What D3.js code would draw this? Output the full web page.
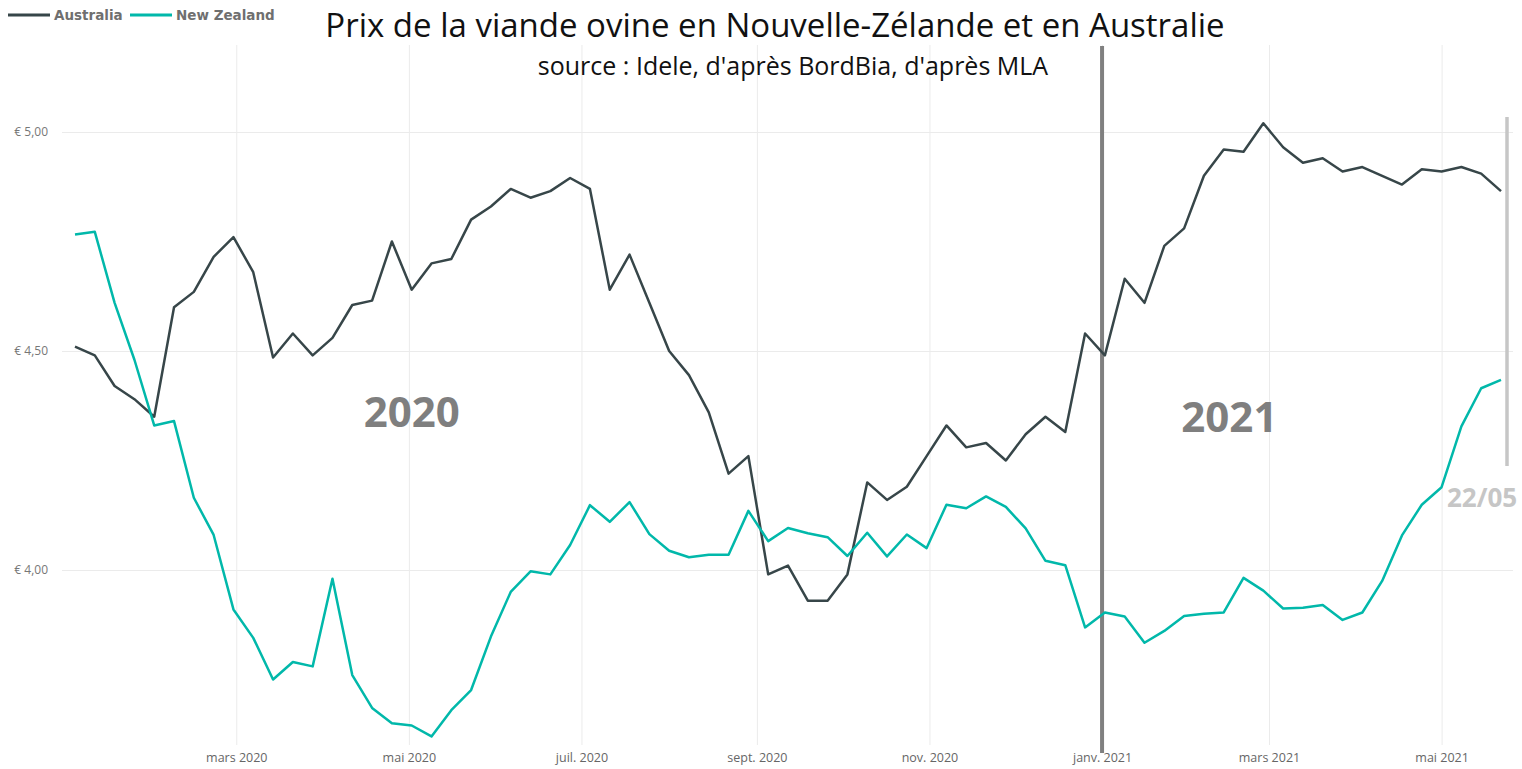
<!DOCTYPE html>
<html>
<head>
<meta charset="utf-8">
<script src="https://cdnjs.cloudflare.com/ajax/libs/d3/7.8.5/d3.min.js"></script>
<style>
  body { margin: 0; background: #fff; }
  .grid line { stroke: #ebebeb; stroke-width: 1; }
  .grid path { display: none; }
  .tick text { fill: #777; font-family: "Open Sans", sans-serif; }
</style>
</head>
<body>
<div id="chart"></div>
<script>
var svgWidth = 1522;
var svgHeight = 769;

// weekly prices (€/kg), first week ends 4 Jan 2020, last on 22 May 2021
var startWeek = new Date(2020, 0, 4);
var endWeek = new Date(2021, 4, 22);

var australia = [
  4.51, 4.49, 4.42, 4.39, 4.35, 4.60, 4.635, 4.715, 4.76, 4.68,
  4.485, 4.54, 4.49, 4.53, 4.605, 4.615, 4.75, 4.64, 4.70, 4.71,
  4.80, 4.83, 4.87, 4.85, 4.865, 4.895, 4.87, 4.64, 4.72, 4.61,
  4.50, 4.445, 4.36, 4.22, 4.26, 3.99, 4.01, 3.93, 3.93, 3.99,
  4.20, 4.16, 4.19, 4.26, 4.33, 4.28, 4.29, 4.25, 4.31, 4.35,
  4.315, 4.54, 4.49, 4.665, 4.61, 4.74, 4.78, 4.90, 4.96, 4.955,
  5.02, 4.965, 4.93, 4.94, 4.91, 4.92, 4.90, 4.88, 4.915, 4.91,
  4.92, 4.905, 4.865
];

var newZealand = [
  4.766, 4.772, 4.61, 4.48, 4.33, 4.34, 4.165, 4.08, 3.91, 3.845,
  3.75, 3.79, 3.78, 3.98, 3.76, 3.685, 3.65, 3.645, 3.62, 3.68,
  3.726, 3.848, 3.95, 3.997, 3.99, 4.057, 4.148, 4.11, 4.155, 4.082,
  4.044, 4.029, 4.035, 4.035, 4.135, 4.066, 4.096, 4.084, 4.075, 4.032,
  4.085, 4.031, 4.081, 4.05, 4.149, 4.141, 4.168, 4.144, 4.095, 4.021,
  4.011, 3.869, 3.903, 3.894, 3.834, 3.861, 3.895, 3.90, 3.903, 3.982,
  3.953, 3.912, 3.914, 3.92, 3.886, 3.903, 3.975, 4.079, 4.149, 4.189,
  4.328, 4.415, 4.434
];

var seriesNames = ["Australia", "New Zealand"];
var seriesColors = ["#374649", "#01B8AA"];

var xTickDates = [
  new Date(2020, 2, 1), new Date(2020, 4, 1), new Date(2020, 6, 1), new Date(2020, 8, 1),
  new Date(2020, 10, 1), new Date(2021, 0, 1), new Date(2021, 2, 1), new Date(2021, 4, 1)
];
var xTickLabels = ["mars 2020", "mai 2020", "juil. 2020", "sept. 2020",
  "nov. 2020", "janv. 2021", "mars 2021", "mai 2021"];

var yTickValues = [4, 4.5, 5];
var yTickLabels = ["€ 4,00", "€ 4,50", "€ 5,00"];

var yearLabels = ["2020", "2021"];
var yearDates = [new Date(2020, 4, 2), new Date(2021, 1, 15)];
var yearSplit = new Date(2021, 0, 1);

var weeks = australia.map(function(d, i) { return d3.timeDay.offset(startWeek, i * 7); });

var svg = d3.select("#chart")
  .append("svg")
  .attr("width", svgWidth)
  .attr("height", svgHeight);

var xScale = d3.scaleTime()
  .domain([startWeek, endWeek])
  .range([75, 1501]);

var yScale = d3.scaleLinear()
  .domain([4, 5])
  .range([570, 132]);

// gridlines + tick labels
svg.append("g")
  .attr("class", "grid")
  .attr("transform", "translate(0, 745)")
  .call(d3.axisBottom(xScale)
    .tickValues(xTickDates)
    .tickFormat(function(d, i) { return xTickLabels[i]; })
    .tickSize(-700)
    .tickPadding(8))
  .selectAll("text")
  .attr("font-size", "12.5px")
  .style("fill", "#666");

svg.append("g")
  .attr("class", "grid")
  .attr("transform", "translate(62, 0)")
  .call(d3.axisLeft(yScale)
    .tickValues(yTickValues)
    .tickFormat(function(d, i) { return yTickLabels[i]; })
    .tickSize(-1451)
    .tickPadding(14))
  .selectAll("text")
  .attr("font-size", "12px");

// year separator and last week marker
svg.append("line")
  .attr("x1", xScale(yearSplit)).attr("x2", xScale(yearSplit))
  .attr("y1", 46).attr("y2", 753)
  .attr("stroke", "#808080")
  .attr("stroke-width", 4);

svg.append("line")
  .attr("x1", xScale(endWeek) + 6).attr("x2", xScale(endWeek) + 6)
  .attr("y1", 117).attr("y2", 466)
  .attr("stroke", "#c6c6c6")
  .attr("stroke-width", 3.5);

svg.append("text")
  .attr("x", xScale(endWeek) - 54)
  .attr("y", 507)
  .attr("font-family", "Open Sans, sans-serif")
  .attr("font-weight", "bold")
  .attr("font-size", "26px")
  .attr("fill", "#c6c6c6")
  .text("22/05");

svg.selectAll(".year")
  .data(yearLabels)
  .enter()
  .append("text")
  .attr("class", "year")
  .attr("x", function(d, i) { return xScale(yearDates[i]); })
  .attr("y", function(d, i) { return i === 0 ? 427 : 432; })
  .attr("text-anchor", "middle")
  .attr("font-family", "Open Sans, sans-serif")
  .attr("font-weight", "bold")
  .attr("font-size", "42px")
  .attr("fill", "#7f7f7f")
  .text(function(d) { return d; });

// lines
var line = d3.line()
  .x(function(d, i) { return xScale(weeks[i]); })
  .y(function(d) { return yScale(d); });

[australia, newZealand].forEach(function(series, k) {
  svg.append("path")
    .datum(series)
    .attr("fill", "none")
    .attr("stroke", seriesColors[k])
    .attr("stroke-width", 2.5)
    .attr("stroke-linejoin", "round")
    .attr("d", line);
});

// legend
var legendX = [8, 130];
var legend = svg.selectAll(".legend")
  .data(seriesNames)
  .enter()
  .append("g")
  .attr("class", "legend")
  .attr("transform", function(d, i) { return "translate(" + legendX[i] + ", 15)"; });

legend.append("line")
  .attr("x1", 0).attr("x2", 42)
  .attr("stroke", function(d, i) { return seriesColors[i]; })
  .attr("stroke-width", 3);

legend.append("text")
  .attr("x", 46)
  .attr("y", 5)
  .attr("font-family", "DejaVu Sans, sans-serif")
  .attr("font-weight", "bold")
  .attr("font-size", "13.5px")
  .attr("fill", "#6f6f6f")
  .text(function(d) { return d; });

// titles
svg.append("text")
  .attr("x", 775)
  .attr("y", 37)
  .attr("text-anchor", "middle")
  .attr("font-family", "Open Sans, sans-serif")
  .attr("font-size", "33px")
  .attr("fill", "#111")
  .text("Prix de la viande ovine en Nouvelle-Zélande et en Australie");

svg.append("text")
  .attr("x", 793)
  .attr("y", 75)
  .attr("text-anchor", "middle")
  .attr("font-family", "Open Sans, sans-serif")
  .attr("font-size", "25px")
  .attr("fill", "#111")
  .text("source : Idele, d'après BordBia, d'après MLA");
</script>
</body>
</html>
